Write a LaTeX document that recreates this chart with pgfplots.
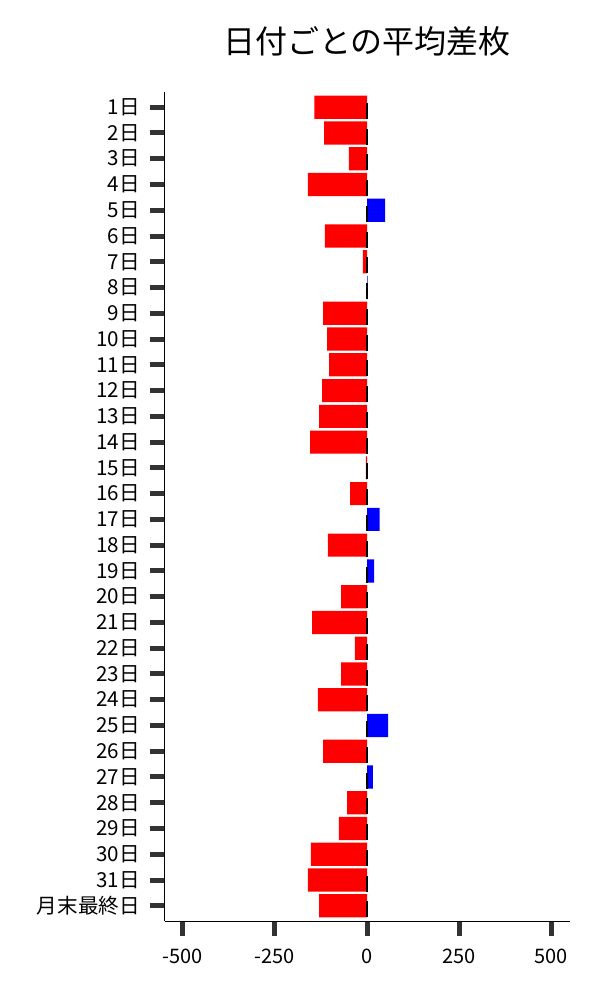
\documentclass[border=0pt]{standalone}
\usepackage{pgfplots}
\pgfplotsset{compat=1.18}
\usepackage{fontspec}
\setmainfont{Noto Sans CJK JP}
\definecolor{tickgray}{HTML}{333333}

\begin{document}
\begin{tikzpicture}
\path[use as bounding box] (0,0) rectangle (600bp,1000bp);
\begin{axis}[
    at={(164.5bp,79bp)}, anchor=south west,
    scale only axis, width=405bp, height=828.7bp,
    xmin=-549, xmax=549, ymin=-0.59, ymax=31.58,
    axis x line*=bottom, axis y line*=left,
    axis line style={-, black, line width=1bp},
    xtick={-500,-250,0,250,500},
    xticklabels={-500,-250,0,250,500},
    ytick={0,...,31},
    yticklabels={月末最終日,31日,30日,29日,28日,27日,26日,25日,24日,23日,22日,21日,20日,19日,18日,17日,16日,15日,14日,13日,12日,11日,10日,9日,8日,7日,6日,5日,4日,3日,2日,1日},
    tick align=outside, major tick length=15bp,
    tick style={tickgray, line width=5bp},
    ticklabel style={font=\fontsize{20bp}{24bp}\selectfont},
    xticklabel style={yshift=-9bp},
    yticklabel style={xshift=-6bp, font=\fontsize{20.6bp}{24bp}\selectfont},
    title={日付ごとの平均差枚},
    title style={at={(0.5,1.039)}, anchor=base, font=\fontsize{32bp}{38bp}\selectfont},
]

% 負の日 (赤)
\addplot[xbar, bar width=0.9, bar shift=0pt, fill=red, draw=none] coordinates {
    (-143,31) (-116,30) (-49,29) (-160,28) (-114,26) (-11,25)
    (-119,23) (-108,22) (-103,21) (-122,20) (-130,19) (-154,18)
    (-3,17) (-46,16) (-106,14) (-70,12) (-149,11) (-33,10) (-70,9)
    (-133,8) (-119,6) (-54,4) (-76,3) (-152,2) (-160,1) (-130,0)
};

% 正の日 (青)
\addplot[xbar, bar width=0.9, bar shift=0pt, fill=blue, draw=none] coordinates {
    (49,27) (2,24) (34,15) (19,13) (57,7) (16,5)
};

% ゼロ位置の黒い線
\addplot[draw=none, mark=none, forget plot,
    error bars/.cd, y dir=both, y explicit, error mark=none,
    error bar style={draw=black, solid, line width=1.4bp}] coordinates {
    (0,30.86) +- (0,0.31) (0,29.86) +- (0,0.31) (0,28.86) +- (0,0.31)
    (0,27.86) +- (0,0.31) (0,26.86) +- (0,0.31) (0,25.86) +- (0,0.31)
    (0,24.86) +- (0,0.31) (0,23.86) +- (0,0.31) (0,22.86) +- (0,0.31)
    (0,21.86) +- (0,0.31) (0,20.86) +- (0,0.31) (0,19.86) +- (0,0.31)
    (0,18.86) +- (0,0.31) (0,17.86) +- (0,0.31) (0,16.86) +- (0,0.31)
    (0,15.86) +- (0,0.31) (0,14.86) +- (0,0.31) (0,13.86) +- (0,0.31)
    (0,12.86) +- (0,0.31) (0,11.86) +- (0,0.31) (0,10.86) +- (0,0.31)
    (0,9.86) +- (0,0.31) (0,8.86) +- (0,0.31) (0,7.86) +- (0,0.31)
    (0,6.86) +- (0,0.31) (0,5.86) +- (0,0.31) (0,4.86) +- (0,0.31)
    (0,3.86) +- (0,0.31) (0,2.86) +- (0,0.31) (0,1.86) +- (0,0.31)
    (0,0.86) +- (0,0.31) (0,-0.14) +- (0,0.31)
};

\end{axis}
\end{tikzpicture}
\end{document}
